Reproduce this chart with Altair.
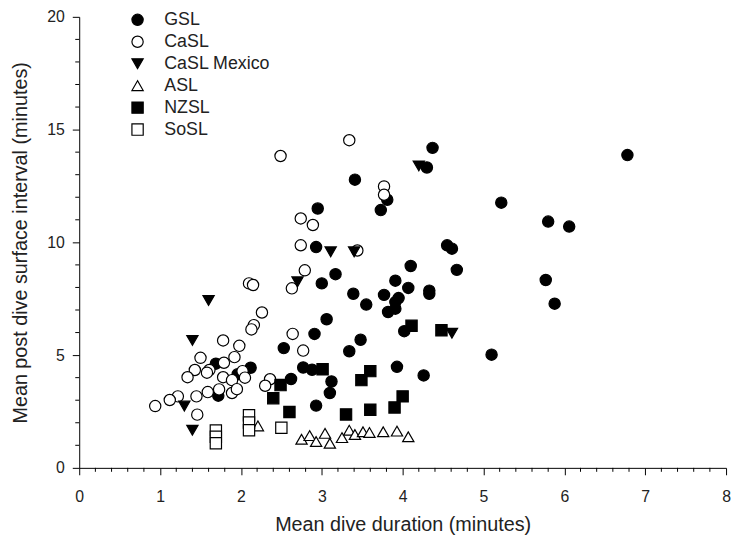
import altair as alt
import pandas as pd

groups = ["GSL", "CaSL", "CaSL Mexico", "ASL", "NZSL", "SoSL"]

gsl_x = [6.78, 5.22, 5.80, 6.06, 4.55, 4.61, 4.67, 5.77, 5.88, 5.10, 4.37, 4.30, 3.41, 3.81, 3.73,
         2.95, 2.93, 3.17, 3.00, 4.10, 3.91, 4.07, 4.33, 4.33, 3.39, 3.77, 3.95, 3.55, 3.91, 3.82,
         3.91, 3.06, 2.91, 3.48, 3.34, 2.53, 4.02, 2.77, 2.88, 3.12, 3.10, 2.62, 2.93, 3.93, 4.26,
         1.69, 1.96, 2.12, 1.72]
gsl_y = [13.87, 11.76, 10.92, 10.70, 9.87, 9.72, 8.78, 8.33, 7.28, 5.02, 14.19, 13.32, 12.78, 11.89, 11.43,
         11.50, 9.79, 8.59, 8.18, 8.95, 8.30, 7.98, 7.86, 7.72, 7.72, 7.67, 7.53, 7.24, 7.35, 6.91,
         7.06, 6.59, 5.94, 5.68, 5.17, 5.31, 6.06, 4.45, 4.35, 3.83, 3.32, 3.94, 2.76, 4.48, 4.10,
         4.62, 4.15, 4.44, 3.20]

casl_x = [2.49, 3.34, 3.77, 3.77, 2.74, 2.89, 2.74, 3.44, 2.79, 2.63, 2.10, 2.15, 2.26, 2.16, 2.13,
          2.64, 2.77, 2.36, 2.30, 1.78, 1.98, 1.50, 1.92, 1.43, 1.34, 1.79, 1.61, 1.58, 1.78, 1.89,
          2.02, 2.05, 1.73, 1.59, 1.89, 1.95, 1.45, 1.22, 1.12, 0.94, 1.46]
casl_y = [13.83, 14.53, 12.48, 12.11, 11.06, 10.77, 9.87, 9.64, 8.76, 7.96, 8.18, 8.11, 6.89, 6.33, 6.14,
          5.94, 5.20, 3.93, 3.64, 5.65, 5.41, 4.88, 4.91, 4.34, 4.02, 4.66, 4.34, 4.22, 4.02, 3.89,
          4.29, 4.00, 3.48, 3.36, 3.32, 3.49, 3.17, 3.17, 3.01, 2.74, 2.36]

mex_x = [1.60, 1.40, 1.30, 1.40, 2.70, 3.11, 3.40, 4.20, 4.61]
mex_y = [7.42, 5.65, 2.74, 1.67, 8.25, 9.58, 9.58, 13.39, 5.97]

asl_x = [2.21, 2.75, 2.85, 2.93, 3.04, 3.10, 3.25, 3.34, 3.41, 3.51, 3.59, 3.76, 3.93, 4.07]
asl_y = [1.86, 1.27, 1.43, 1.17, 1.53, 1.09, 1.34, 1.67, 1.48, 1.60, 1.57, 1.60, 1.63, 1.38]

nzsl_x = [4.48, 4.11, 3.01, 3.60, 3.49, 2.49, 2.40, 2.60, 3.30, 3.60, 3.90, 4.00]
nzsl_y = [6.10, 6.30, 4.37, 4.29, 3.89, 3.67, 3.09, 2.48, 2.37, 2.58, 2.68, 3.17]

sosl_x = [2.50, 2.10, 2.10, 2.10, 1.69, 1.69, 1.69]
sosl_y = [1.78, 2.33, 2.01, 1.67, 1.66, 1.38, 1.09]

x_major = [0, 1, 2, 3, 4, 5, 6, 7, 8]
y_major = [0, 5, 10, 15, 20]
x_minor = [round(i * 0.2, 1) for i in range(41) if i % 5 != 0]
y_minor = [i for i in range(21) if i % 5 != 0]

rows = []
for name, xs, ys in [("GSL", gsl_x, gsl_y), ("CaSL", casl_x, casl_y), ("CaSL Mexico", mex_x, mex_y),
                     ("ASL", asl_x, asl_y), ("NZSL", nzsl_x, nzsl_y), ("SoSL", sosl_x, sosl_y)]:
    for a, b in zip(xs, ys):
        rows.append({"group": name, "x": a, "y": b})
df = pd.DataFrame(rows)

FONT = "Liberation Sans"
W, H = 654, 456

xscale = alt.Scale(domain=[0, 8], nice=False, zero=False)
yscale = alt.Scale(domain=[0, 20], nice=False, zero=False)

legend = alt.Legend(
    title=None, orient="none", legendX=50, legendY=-6, padding=0,
    labelFontSize=18, labelFont=FONT, labelColor="#222", labelOffset=18,
    symbolSize=130, symbolStrokeWidth=1.2,
    rowPadding=4.2, labelLimit=300,
)

points = alt.Chart(df).mark_point(
    filled=True, strokeWidth=1.2, opacity=1, size=130
).encode(
    x=alt.X("x:Q", scale=xscale,
            axis=alt.Axis(values=x_major, grid=False, title="Mean dive duration (minutes)",
                          format="d", tickSize=7,
                          labelOverlap=False, labelFlush=False, labelPadding=14,
                          titlePadding=10)),
    y=alt.Y("y:Q", scale=yscale,
            axis=alt.Axis(values=y_major, grid=False, title="Mean post dive surface interval (minutes)",
                          format="d", tickSize=7,
                          labelOverlap=False, labelFlush=False, labelPadding=8,
                          titlePadding=16)),
    shape=alt.Shape("group:N", scale=alt.Scale(domain=groups,
                    range=["circle", "circle", "triangle-down", "triangle-up", "square", "square"]),
                    legend=legend),
    fill=alt.Fill("group:N", scale=alt.Scale(domain=groups,
                  range=["black", "white", "black", "white", "black", "white"]),
                  legend=legend),
    stroke=alt.Stroke("group:N", scale=alt.Scale(domain=groups,
                      range=["black"] * 6), legend=legend),
)

xminor_df = pd.DataFrame({"x": x_minor})
yminor_df = pd.DataFrame({"y": y_minor})

xminor = alt.Chart(xminor_df).mark_rule(color="black", strokeWidth=1, clip=False).encode(
    x=alt.X("x:Q", scale=xscale), y=alt.value(H), y2=alt.value(H + 4)
)
yminor = alt.Chart(yminor_df).mark_rule(color="black", strokeWidth=1, clip=False).encode(
    y=alt.Y("y:Q", scale=yscale), x=alt.value(0), x2=alt.value(-4)
)

chart = alt.layer(xminor, yminor, points).properties(
    width=W, height=H,
    autosize=alt.AutoSizeParams(type="none"),
    padding={"left": 72, "top": 6, "right": 5, "bottom": 70},
).configure_view(stroke=None).configure_axis(
    domainColor="black", tickColor="black", domainWidth=1, tickWidth=1,
    labelFont=FONT, labelFontSize=16, labelColor="#222",
    titleFont=FONT, titleFontSize=20, titleFontWeight="normal", titleColor="#222",
)

chart.save("out.html", embed_options={"renderer": "svg", "actions": False})
